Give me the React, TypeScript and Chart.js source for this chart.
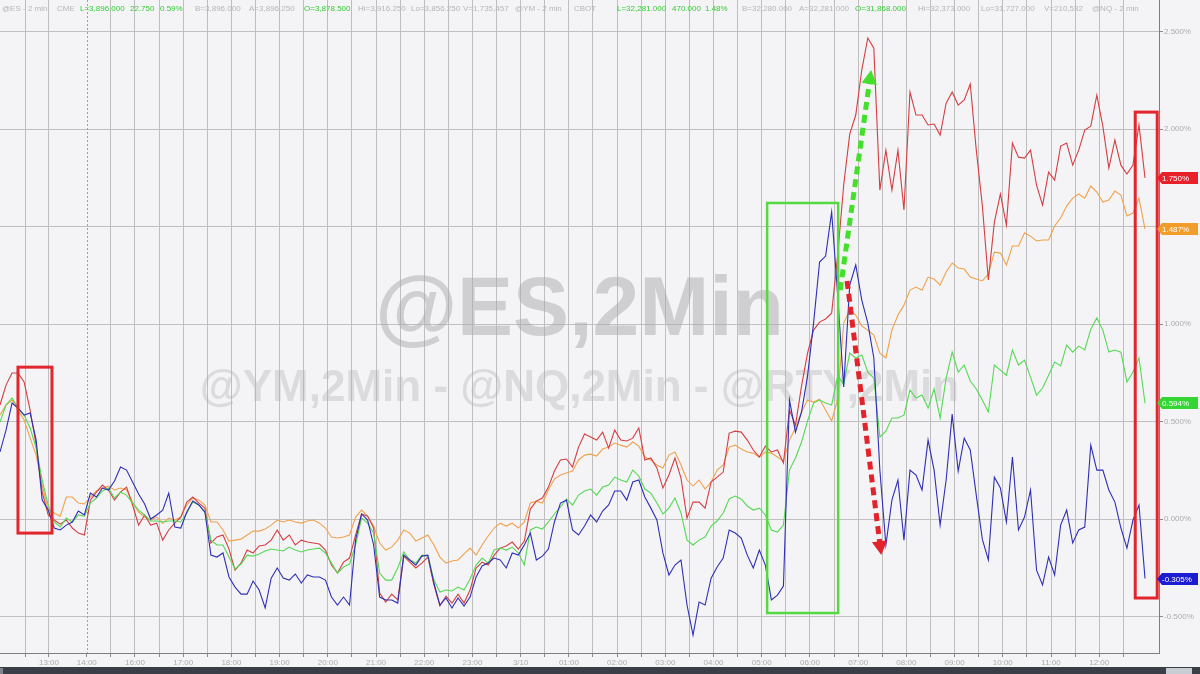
import React, { useEffect, useRef } from "react";
import { Chart, registerables } from "chart.js";

Chart.register(...registerables);

// x is measured in hour-slots of the trading axis (16:00 = 2, 3/10 00:00 = 10, 12:00 = 22)
const FIRST_X = -0.8;
const STEP_X = 0.125;

const nqValues = [
  0.585, 0.687, 0.749, 0.749, 0.703, 0.559, 0.379, 0.138, 0.021, -0.005,
  -0.026, -0.005, -0.046, -0.072, -0.082, 0.097, 0.138, 0.174, 0.149, 0.097,
  0.138, 0.164, 0.072, -0.031, 0.021, -0.031, -0.021, -0.108, -0.056, -0.021,
  0.010, 0.087, 0.113, 0.082, 0.056, -0.123, -0.092, -0.082, -0.154, -0.262,
  -0.226, -0.159, -0.174, -0.138, -0.133, -0.108, -0.056, -0.108, -0.082, -0.133,
  -0.108, -0.118, -0.123, -0.128, -0.159, -0.236, -0.277, -0.221, -0.200, -0.082,
  0.026, 0.015, -0.046, -0.379, -0.426, -0.385, -0.415, -0.190, -0.221, -0.251,
  -0.226, -0.195, -0.338, -0.446, -0.395, -0.431, -0.385, -0.431, -0.364, -0.251,
  -0.221, -0.236, -0.185, -0.149, -0.138, -0.118, -0.154, -0.113, 0.051, 0.092,
  0.108, 0.164, 0.246, 0.303, 0.308, 0.267, 0.369, 0.436, 0.421, 0.405,
  0.446, 0.364, 0.456, 0.405, 0.400, 0.415, 0.467, 0.303, 0.313, 0.262,
  0.159, 0.226, 0.313, 0.210, 0.005, 0.087, 0.087, 0.056, 0.190, 0.215,
  0.241, 0.441, 0.451, 0.446, 0.405, 0.354, 0.318, 0.374, 0.344, 0.354,
  0.287, 0.559, 0.482, 0.682, 0.851, 0.969, 1.010, 1.026, 1.056, 1.354,
  1.713, 1.974, 2.072, 2.303, 2.467, 2.415, 1.687, 1.892, 1.687, 1.892,
  1.585, 2.190, 2.072, 2.072, 2.021, 2.026, 1.969, 2.133, 2.190, 2.123,
  2.149, 2.231, 1.892, 1.610, 1.226, 1.523, 1.667, 1.508, 1.928, 1.856,
  1.851, 1.892, 1.713, 1.610, 1.779, 1.738, 1.913, 1.928, 1.815, 1.892,
  1.995, 2.015, 2.174, 2.015, 1.800, 1.944, 1.815, 1.769, 1.815, 2.021,
  1.750,
];

const ymValues = [
  0.533, 0.585, 0.610, 0.559, 0.508, 0.415, 0.328, 0.174, 0.046, 0.031,
  0.015, 0.113, 0.113, 0.082, 0.077, 0.113, 0.144, 0.159, 0.169, 0.149,
  0.159, 0.149, 0.087, 0.036, 0.010, -0.005, 0.010, -0.021, 0.005, -0.005,
  0.010, 0.072, 0.108, 0.097, 0.072, -0.015, -0.015, -0.056, -0.113, -0.108,
  -0.103, -0.082, -0.062, -0.062, -0.051, -0.031, -0.005, -0.015, -0.005, -0.015,
  -0.021, -0.010, -0.005, -0.021, -0.046, -0.092, -0.097, -0.092, -0.082, 0.010,
  0.046, 0.015, -0.036, -0.123, -0.159, -0.144, -0.108, -0.056, -0.072, -0.113,
  -0.097, -0.082, -0.133, -0.195, -0.226, -0.215, -0.210, -0.179, -0.149, -0.185,
  -0.133, -0.087, -0.046, -0.021, -0.036, -0.021, -0.046, -0.015, 0.082, 0.092,
  0.082, 0.149, 0.205, 0.226, 0.236, 0.246, 0.303, 0.328, 0.333, 0.323,
  0.359, 0.369, 0.390, 0.379, 0.369, 0.395, 0.374, 0.318, 0.303, 0.277,
  0.262, 0.328, 0.344, 0.277, 0.200, 0.169, 0.200, 0.154, 0.190, 0.251,
  0.277, 0.369, 0.379, 0.359, 0.344, 0.338, 0.318, 0.344, 0.338, 0.318,
  0.297, 0.405, 0.467, 0.549, 0.610, 0.600, 0.615, 0.559, 0.503, 0.615,
  1.005, 1.072, 1.046, 0.990, 0.969, 0.944, 0.851, 0.826, 0.969, 1.046,
  1.097, 1.174, 1.190, 1.174, 1.241, 1.231, 1.200, 1.267, 1.313, 1.287,
  1.282, 1.241, 1.231, 1.221, 1.256, 1.369, 1.364, 1.303, 1.400, 1.400,
  1.467, 1.451, 1.426, 1.431, 1.431, 1.503, 1.544, 1.605, 1.646, 1.667,
  1.646, 1.708, 1.677, 1.626, 1.636, 1.682, 1.662, 1.554, 1.569, 1.646,
  1.487,
];

const esValues = [
  0.497, 0.585, 0.621, 0.569, 0.533, 0.467, 0.364, 0.200, 0.072, -0.015,
  -0.041, 0.005, -0.015, 0.021, 0.015, 0.082, 0.108, 0.144, 0.159, 0.108,
  0.138, 0.123, 0.082, 0.046, 0.021, -0.010, -0.010, -0.015, -0.010, -0.010,
  -0.015, 0.031, 0.087, 0.072, 0.036, -0.108, -0.133, -0.133, -0.195, -0.256,
  -0.231, -0.185, -0.190, -0.179, -0.164, -0.154, -0.159, -0.164, -0.144, -0.159,
  -0.169, -0.159, -0.154, -0.149, -0.174, -0.226, -0.277, -0.246, -0.231, -0.133,
  0.005, -0.021, -0.072, -0.277, -0.313, -0.313, -0.251, -0.169, -0.210, -0.226,
  -0.185, -0.190, -0.313, -0.374, -0.364, -0.369, -0.349, -0.364, -0.308, -0.236,
  -0.200, -0.226, -0.159, -0.149, -0.159, -0.144, -0.174, -0.236, -0.056, -0.041,
  -0.051, -0.015, 0.026, 0.062, 0.103, 0.072, 0.123, 0.144, 0.154, 0.123,
  0.164, 0.174, 0.215, 0.200, 0.190, 0.251, 0.221, 0.154, 0.133, 0.082,
  0.026, 0.056, 0.108, 0.031, -0.108, -0.133, -0.108, -0.092, -0.036, -0.010,
  0.031, 0.103, 0.118, 0.103, 0.067, 0.046, 0.056, 0.021, -0.056, -0.067,
  -0.031, 0.251, 0.313, 0.395, 0.503, 0.595, 0.610, 0.595, 0.585, 0.733,
  0.692, 0.851, 0.826, 0.841, 0.754, 0.723, 0.421, 0.451, 0.518, 0.518,
  0.533, 0.662, 0.621, 0.636, 0.569, 0.667, 0.518, 0.723, 0.856, 0.754,
  0.790, 0.708, 0.667, 0.610, 0.549, 0.790, 0.764, 0.738, 0.867, 0.790,
  0.815, 0.728, 0.636, 0.672, 0.738, 0.805, 0.785, 0.892, 0.856, 0.887,
  0.867, 0.974, 1.031, 0.969, 0.856, 0.867, 0.856, 0.703, 0.754, 0.826,
  0.594,
];

const rtyValues = [
  0.344, 0.456, 0.595, 0.569, 0.533, 0.544, 0.405, 0.097, 0.046, -0.046,
  -0.056, -0.031, -0.015, 0.041, 0.021, 0.133, 0.113, 0.159, 0.149, 0.195,
  0.267, 0.251, 0.190, 0.128, 0.077, 0.000, 0.021, 0.046, 0.133, -0.041,
  -0.046, 0.036, 0.092, 0.072, 0.036, -0.185, -0.195, -0.174, -0.297, -0.349,
  -0.385, -0.385, -0.318, -0.364, -0.456, -0.303, -0.251, -0.303, -0.313, -0.282,
  -0.328, -0.287, -0.297, -0.297, -0.313, -0.400, -0.441, -0.400, -0.441, -0.108,
  0.026, -0.005, -0.133, -0.400, -0.415, -0.415, -0.431, -0.185, -0.210, -0.236,
  -0.190, -0.185, -0.328, -0.441, -0.405, -0.456, -0.405, -0.446, -0.400, -0.297,
  -0.241, -0.226, -0.200, -0.210, -0.251, -0.174, -0.185, -0.133, -0.072, -0.210,
  -0.190, -0.154, -0.015, 0.082, 0.097, -0.056, -0.082, -0.036, 0.021, -0.015,
  0.041, 0.072, 0.144, 0.144, 0.097, 0.190, 0.200, 0.113, 0.056, -0.005,
  -0.174, -0.287, -0.236, -0.210, -0.441, -0.595, -0.426, -0.441, -0.303, -0.246,
  -0.200, -0.056, -0.072, -0.097, -0.185, -0.251, -0.159, -0.236, -0.415, -0.390,
  -0.344, 0.610, 0.446, 0.549, 0.733, 1.005, 1.318, 1.349, 1.574, 1.149,
  0.677, 1.200, 1.303, 1.123, 1.005, 0.826, 0.251, -0.133, 0.097, 0.200,
  -0.108, 0.251, 0.226, 0.149, 0.405, 0.251, -0.031, 0.200, 0.538, 0.246,
  0.415, 0.354, 0.123, -0.103, -0.210, 0.215, 0.159, -0.015, 0.318, -0.056,
  0.010, 0.149, -0.262, -0.338, -0.195, -0.287, -0.031, 0.046, -0.123, -0.056,
  -0.041, 0.379, 0.251, 0.251, 0.149, 0.087, -0.046, -0.149, -0.005, 0.072,
  -0.305,
];

const xTickValues = [0.216, 1, 2, 3, 4, 5, 6, 7, 8, 9, 10, 11, 12, 13, 14, 15, 16, 17, 18, 19, 20, 21, 22];
const xTickLabels = [
  "13:00", "14:00", "16:00", "17:00", "18:00", "19:00", "20:00", "21:00", "22:00", "23:00", "3/10",
  "01:00", "02:00", "03:00", "04:00", "05:00", "06:00", "07:00", "08:00", "09:00", "10:00", "11:00", "12:00",
];
const xGridValues = [
  -0.28, 0.216, 1, 1.5, 2, 2.5, 3, 3.5, 4, 4.5, 5, 5.5, 6, 6.5, 7, 7.5, 8, 8.5, 9, 9.5, 10, 10.5,
  11, 11.5, 12, 12.5, 13, 13.5, 14, 14.5, 15, 15.5, 16, 16.5, 17, 17.5, 18, 18.5, 19, 19.5, 20, 20.5,
  21, 21.5, 22, 22.5,
];
const SESSION_BREAK = 1;
const X_MIN = -0.8;
const X_MAX = 23.24;
const Y_MIN = -0.687;
const Y_MAX = 2.662;
const yTickValues = [-0.5, 0, 0.5, 1, 1.5, 2, 2.5];

const seriesNames = ["@NQ", "@YM", "@ES", "@RTY"];
const lineColors = ["#d43e42", "#efa24c", "#55d855", "#2e2eb6"];
const tagColors = ["#e8202a", "#f29c2a", "#33d633", "#1c1cd2"];

const headerTokens: [string, number, boolean][] = [
  ["@ES - 2 min", 2, false], ["CME", 57, false], ["L=3,896.000", 80, true], ["22.750", 130, true],
  ["0.59%", 160, true], ["B=3,896.000", 195, false], ["A=3,896.250", 249, false], ["O=3,878.500", 304, true],
  ["Hi=3,916.250", 358, false], ["Lo=3,856.250", 411, false], ["V=1,735,457", 463, false],
  ["@YM - 2 min", 515, false], ["CBOT", 574, false], ["L=32,281.000", 617, true], ["470.000", 672, true],
  ["1.48%", 705, true], ["B=32,280.000", 742, false], ["A=32,281.000", 799, false], ["O=31,868.000", 855, true],
  ["Hi=32,373.000", 918, false], ["Lo=31,727.000", 981, false], ["V=210,532", 1044, false],
  ["@NQ - 2 min", 1092, false],
];

// annotation boxes / arrows in data coordinates (x slot, y %)
const boxNotes = [
  { x0: -0.427, x1: 0.278, y0: -0.072, y1: 0.779, color: "#e2262e", width: 3 },
  { x0: 22.747, x1: 23.203, y0: -0.405, y1: 2.087, color: "#e2262e", width: 3 },
  { x0: 15.112, x1: 16.585, y0: -0.482, y1: 1.621, color: "#55d840", width: 2.5 },
];
const arrowNotes = [
  { x0: 16.627, y0: 1.174, x1: 17.27, y1: 2.303, color: "#44df2a" },
  { x0: 16.77, y0: 1.221, x1: 17.48, y1: -0.185, color: "#e3232b" },
];

const BG = "#f4f4f6";
const FONT = '"Liberation Sans", Arial, sans-serif';

function toPoints(values: number[]) {
  return values.map((v, i) => ({ x: FIRST_X + i * STEP_X, y: v }));
}

function drawArrow(ctx: CanvasRenderingContext2D, x0: number, y0: number, x1: number, y1: number, color: string) {
  const ang = Math.atan2(y1 - y0, x1 - x0);
  const head = 14;
  const ex = x1 - Math.cos(ang) * head * 0.8;
  const ey = y1 - Math.sin(ang) * head * 0.8;
  ctx.strokeStyle = color;
  ctx.lineWidth = 5;
  ctx.setLineDash([8, 5]);
  ctx.beginPath();
  ctx.moveTo(x0, y0);
  ctx.lineTo(ex, ey);
  ctx.stroke();
  ctx.setLineDash([]);
  ctx.fillStyle = color;
  const bx = x1 - head * Math.cos(ang);
  const by = y1 - head * Math.sin(ang);
  const w = head * 0.55;
  ctx.beginPath();
  ctx.moveTo(x1, y1);
  ctx.lineTo(bx + w * Math.sin(ang), by - w * Math.cos(ang));
  ctx.lineTo(bx - w * Math.sin(ang), by + w * Math.cos(ang));
  ctx.closePath();
  ctx.fill();
}

const decorPlugin = {
  id: "decor",
  beforeDraw(chart: any) {
    const { ctx, width, height } = chart;
    ctx.save();
    ctx.fillStyle = BG;
    ctx.fillRect(0, 0, width, height);
    ctx.restore();
  },
  beforeDatasetsDraw(chart: any) {
    const { ctx, chartArea: a, scales } = chart;
    const x = scales.x;
    ctx.save();
    const sx = Math.round(x.getPixelForValue(SESSION_BREAK)) + 0.5;
    ctx.strokeStyle = "#a0a0a0";
    ctx.lineWidth = 1;
    ctx.setLineDash([2, 2]);
    ctx.beginPath();
    ctx.moveTo(sx, a.top);
    ctx.lineTo(sx, a.bottom);
    ctx.stroke();
    ctx.setLineDash([]);
    const cx = (a.left + a.right) / 2;
    ctx.textAlign = "center";
    ctx.textBaseline = "alphabetic";
    ctx.fillStyle = "rgba(170,170,172,0.5)";
    ctx.font = `bold 84px ${FONT}`;
    ctx.fillText("@ES,2Min", cx, a.top + 335);
    ctx.fillStyle = "rgba(180,180,182,0.38)";
    ctx.font = `bold 44px ${FONT}`;
    ctx.fillText("@YM,2Min - @NQ,2Min - @RTY,2Min", cx, a.top + 401);
    ctx.restore();
  },
  afterDraw(chart: any) {
    const { ctx, chartArea: a, scales, width, height } = chart;
    const x = scales.x;
    const y = scales.y;
    ctx.save();
    boxNotes.forEach((b) => {
      const l = x.getPixelForValue(b.x0);
      const r = x.getPixelForValue(b.x1);
      const t = y.getPixelForValue(b.y1);
      const bt = y.getPixelForValue(b.y0);
      ctx.strokeStyle = b.color;
      ctx.lineWidth = b.width;
      ctx.strokeRect(l, t, r - l, bt - t);
    });
    arrowNotes.forEach((n) => {
      drawArrow(ctx, x.getPixelForValue(n.x0), y.getPixelForValue(n.y0), x.getPixelForValue(n.x1), y.getPixelForValue(n.y1), n.color);
    });
    chart.data.datasets.forEach((ds: any, i: number) => {
      const last = ds.data[ds.data.length - 1].y;
      const py = Math.round(y.getPixelForValue(last));
      const left = a.right - 2;
      ctx.fillStyle = tagColors[i];
      ctx.beginPath();
      ctx.moveTo(left, py);
      ctx.lineTo(left + 5, py - 6);
      ctx.lineTo(width - 2, py - 6);
      ctx.lineTo(width - 2, py + 6);
      ctx.lineTo(left + 5, py + 6);
      ctx.closePath();
      ctx.fill();
      ctx.fillStyle = "#ffffff";
      ctx.font = `8px ${FONT}`;
      ctx.textAlign = "left";
      ctx.textBaseline = "middle";
      ctx.fillText(last.toFixed(3) + "%", left + 5, py + 0.5);
    });
    ctx.font = `8px ${FONT}`;
    ctx.textAlign = "left";
    ctx.textBaseline = "middle";
    headerTokens.forEach(([txt, px, green]) => {
      ctx.fillStyle = green ? "#36cc36" : "#b6b6b6";
      ctx.fillText(txt, px, 9);
    });
    ctx.fillStyle = "#3a3f47";
    ctx.fillRect(0, height - 7, width, 7);
    ctx.fillStyle = "#c8cdd3";
    ctx.fillRect(1166, height - 6, 26, 6);
    ctx.fillStyle = "#80858c";
    ctx.fillRect(0, height - 6, 3, 6);
    ctx.restore();
  },
};

export default function App() {
  const canvasRef = useRef<HTMLCanvasElement | null>(null);

  useEffect(() => {
    if (!canvasRef.current) return;
    const valueSets = [nqValues, ymValues, esValues, rtyValues];
    const order = [2, 3, 1, 0];
    const chart = new Chart(canvasRef.current, {
      type: "line",
      data: {
        datasets: valueSets.map((vals, i) => ({
          label: seriesNames[i],
          data: toPoints(vals),
          borderColor: lineColors[i],
          borderWidth: 1.1,
          pointRadius: 0,
          tension: 0,
          fill: false,
          order: order[i],
        })),
      },
      options: {
        responsive: false,
        maintainAspectRatio: false,
        animation: false,
        layout: { padding: 0 },
        plugins: { legend: { display: false }, tooltip: { enabled: false } },
        scales: {
          x: {
            type: "linear",
            min: X_MIN,
            max: X_MAX,
            afterBuildTicks: (s: any) => {
              s.ticks = xGridValues.map((v) => ({ value: v }));
            },
            afterFit: (s: any) => {
              s.height = 21;
              s.paddingLeft = 0;
              s.paddingRight = 0;
            },
            ticks: {
              autoSkip: false,
              maxRotation: 0,
              padding: 1,
              color: "#acacac",
              font: { size: 8, family: FONT },
              callback: (v: any) => {
                const j = xTickValues.findIndex((t) => Math.abs(t - Number(v)) < 1e-6);
                return j >= 0 ? xTickLabels[j] : "";
              },
            },
            grid: {
              color: (c: any) => (c.tick && Math.abs(c.tick.value - SESSION_BREAK) < 1e-6 ? "rgba(0,0,0,0)" : "#bebebe"),
              lineWidth: 1,
              tickLength: 4,
              tickColor: "#8a8a8a",
            },
            border: { color: "#7e7e7e", width: 1 },
          },
          y: {
            position: "right",
            min: Y_MIN,
            max: Y_MAX,
            afterBuildTicks: (s: any) => {
              s.ticks = yTickValues.map((v) => ({ value: v }));
            },
            afterFit: (s: any) => {
              s.width = 41;
              s.paddingTop = 0;
              s.paddingBottom = 0;
            },
            ticks: {
              padding: 1,
              color: "#acacac",
              font: { size: 8, family: FONT },
              callback: (v: any) => Number(v).toFixed(3) + "%",
            },
            grid: { color: "#c0c0c0", lineWidth: 1, tickLength: 4, tickColor: "#8a8a8a" },
            border: { color: "#7e7e7e", width: 1 },
          },
        },
      },
      plugins: [decorPlugin],
    } as any);
    return () => chart.destroy();
  }, []);

  return (
    <div style={{ position: "absolute", left: 0, top: 0, width: 1200, height: 674, background: BG }}>
      <canvas ref={canvasRef} width={1200} height={674} style={{ display: "block" }} />
    </div>
  );
}
